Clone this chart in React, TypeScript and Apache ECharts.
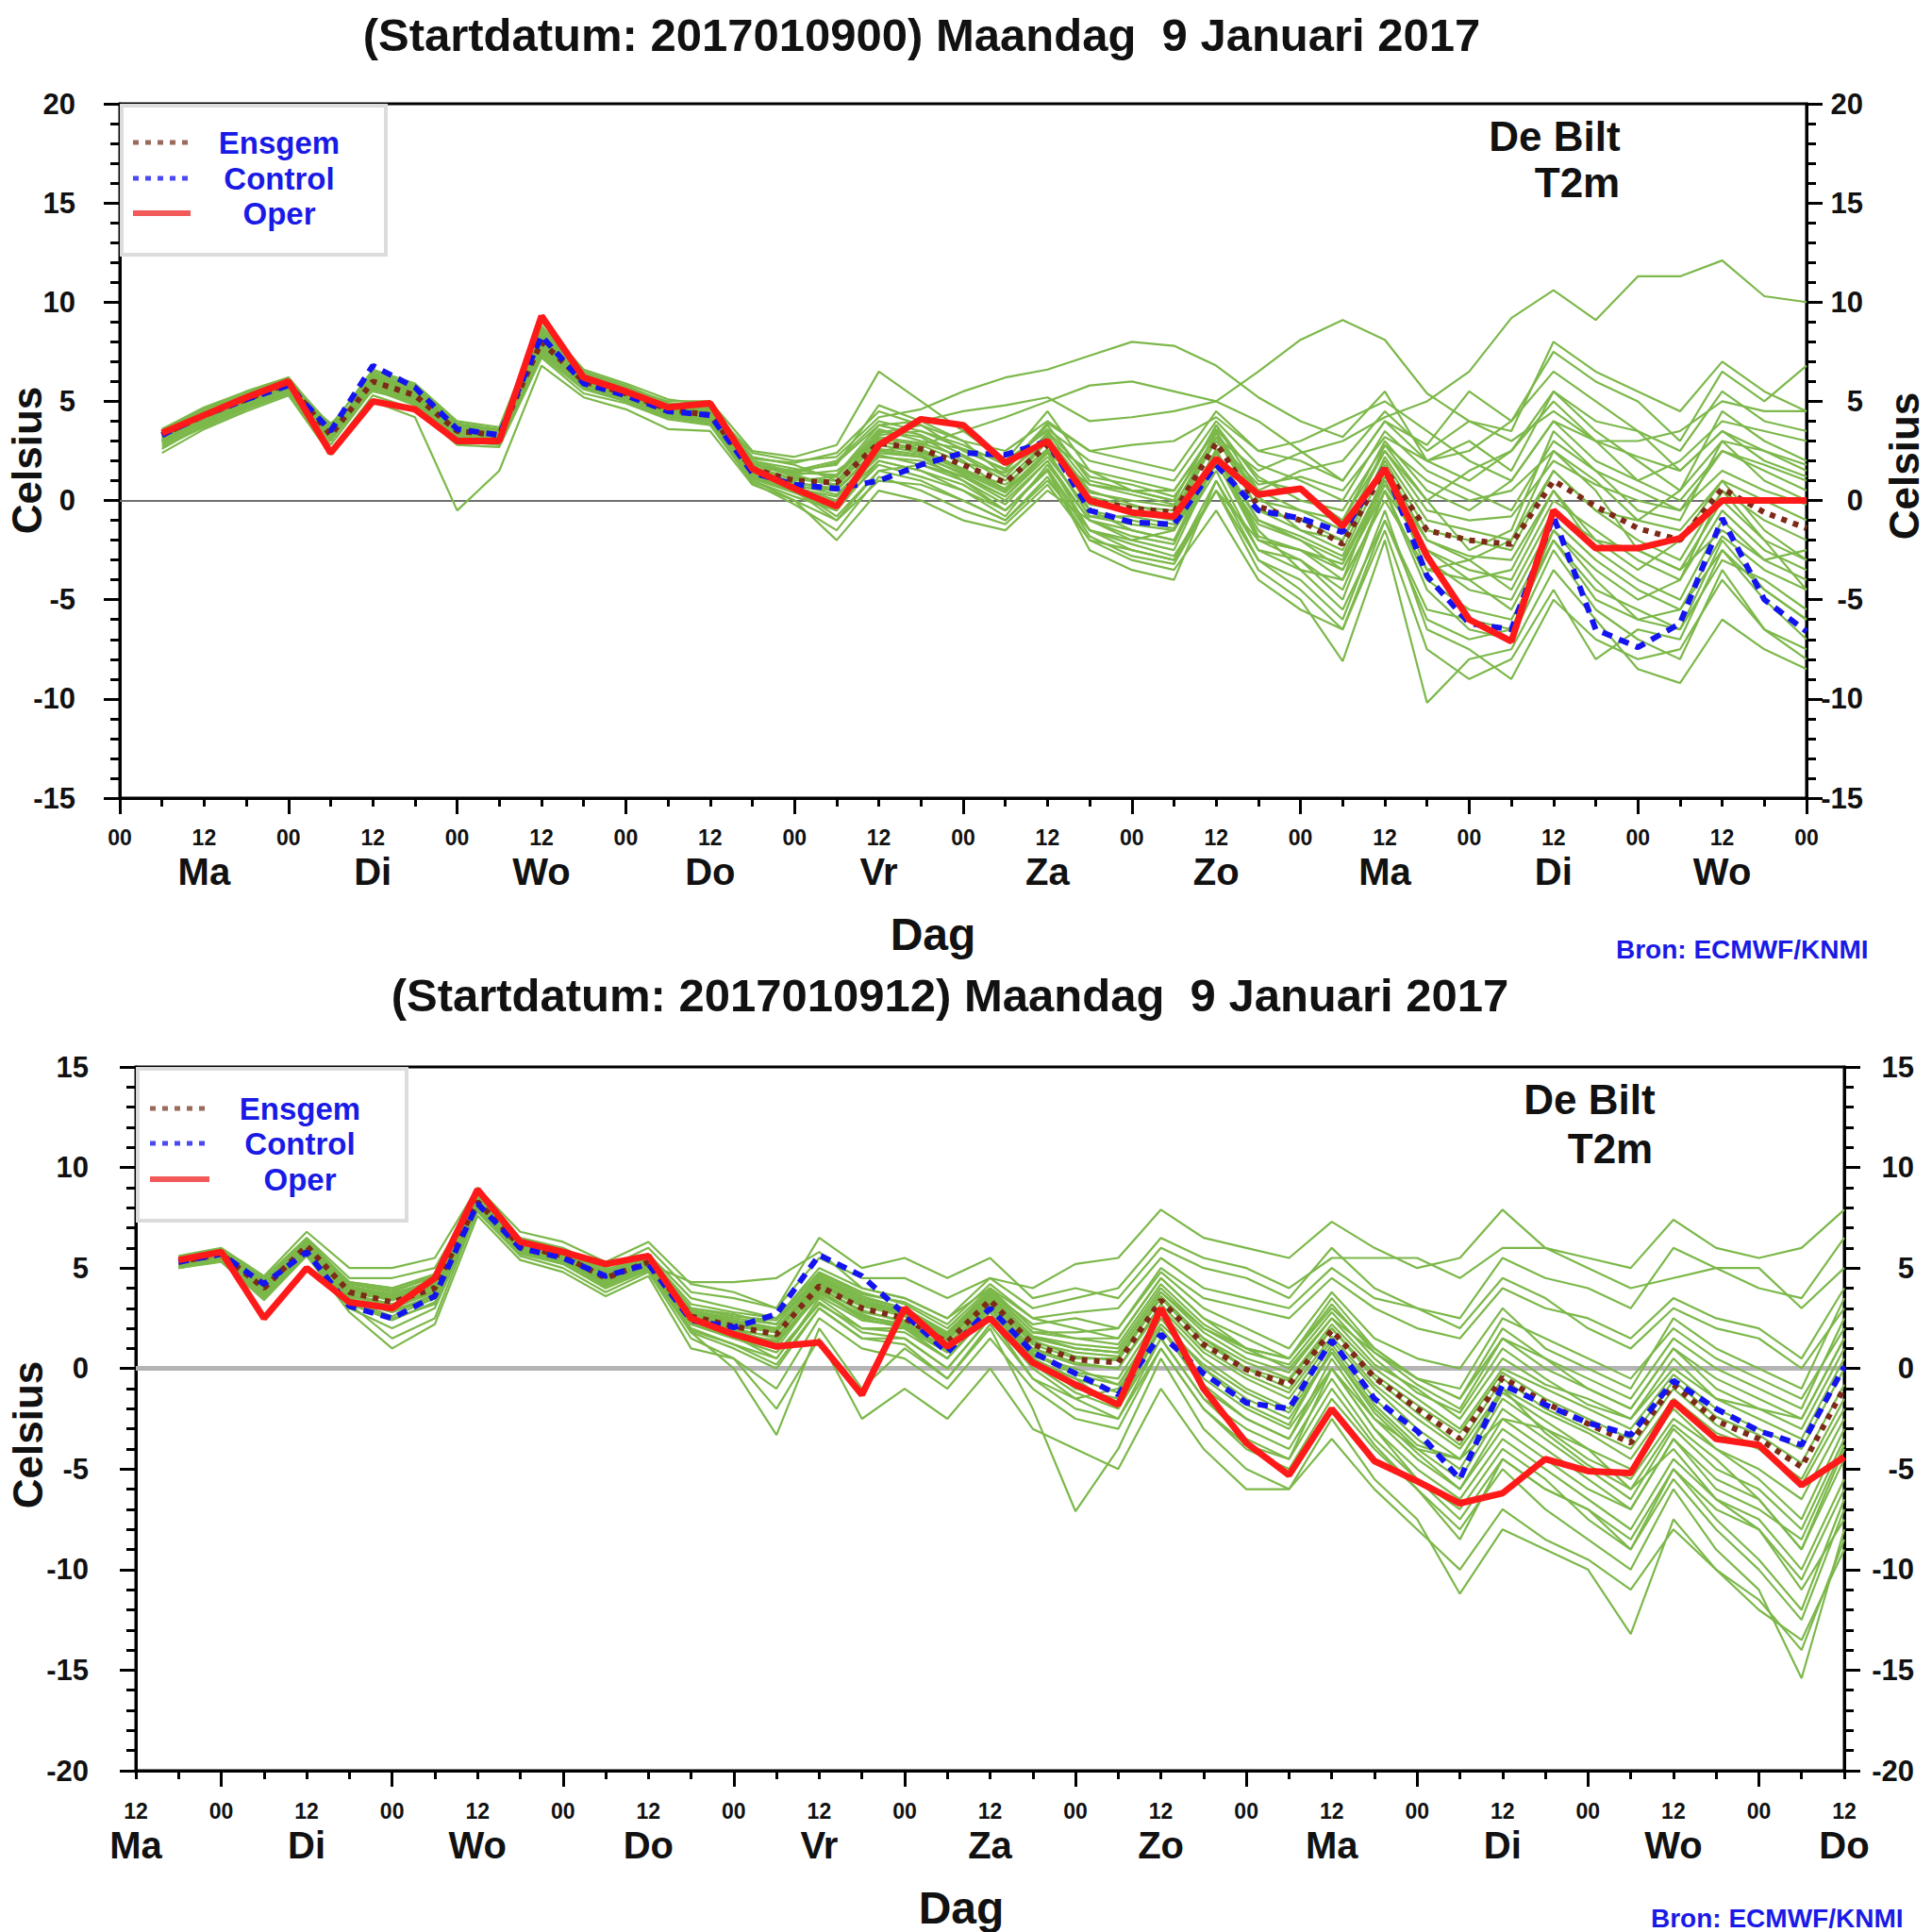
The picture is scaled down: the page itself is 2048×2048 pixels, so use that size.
import React, { useEffect, useRef } from "react";
import * as echarts from "echarts";

// forecast hours (6-hourly steps) for both panels
const hours = [6, 12, 18, 24, 30, 36, 42, 48, 54, 60, 66, 72, 78, 84, 90, 96, 102, 108, 114, 120, 126, 132, 138, 144, 150, 156, 162, 168, 174, 180, 186, 192, 198, 204, 210, 216, 222, 228, 234, 240];

const topDays = ["Ma", "Di", "Wo", "Do", "Vr", "Za", "Zo", "Ma", "Di", "Wo"];
const bottomDays = ["Ma", "Di", "Wo", "Do", "Vr", "Za", "Zo", "Ma", "Di", "Wo", "Do"];
const topLongTicks = [0, 24, 48, 72, 96, 120, 144, 168, 192, 216, 240];
const bottomLongTicks = [12, 36, 60, 84, 108, 132, 156, 180, 204, 228];

const topTitle = "(Startdatum: 2017010900) Maandag  9 Januari 2017";
const bottomTitle = "(Startdatum: 2017010912) Maandag  9 Januari 2017";

// ---------- top panel (run 2017010900) ----------
const topEnsgem = [3.3, 4.3, 5.1, 5.9, 3.3, 6.0, 5.3, 3.5, 3.3, 8.0, 6.0, 5.4, 4.6, 4.3, 1.6, 1.0, 0.9, 2.9, 2.6, 1.8, 0.9, 2.8, 0.0, -0.4, -0.6, 2.9, -0.3, -1.0, -2.2, 1.6, -1.5, -2.0, -2.2, 1.0, -0.3, -1.4, -2.0, 0.6, -0.6, -1.4];
const topControl = [3.3, 4.3, 5.1, 5.8, 3.5, 6.8, 5.7, 3.6, 3.3, 8.3, 5.9, 5.3, 4.5, 4.3, 1.4, 0.8, 0.6, 1.0, 1.8, 2.4, 2.3, 3.0, -0.5, -1.1, -1.2, 1.8, -0.5, -0.9, -1.6, 1.7, -3.8, -6.2, -6.5, -0.8, -6.5, -7.4, -6.2, -0.9, -5.0, -6.6];
const topOper = [3.4, 4.3, 5.2, 6.0, 2.4, 5.0, 4.6, 3.0, 3.0, 9.3, 6.2, 5.5, 4.7, 4.9, 1.6, 0.6, -0.3, 2.8, 4.1, 3.8, 1.9, 3.0, 0.0, -0.6, -0.8, 2.1, 0.3, 0.6, -1.3, 1.6, -2.8, -6.0, -7.1, -0.5, -2.4, -2.4, -1.9, 0.0, 0.0, 0.0];

const topM01 = [3.5, 4.5, 5.3, 6.0, 3.6, 5.8, 5.0, 3.4, 3.1, 8.2, 6.2, 5.6, 4.8, 4.5, 2.0, 1.6, 1.2, 3.6, 3.0, 2.6, 2.0, 3.5, 1.2, 0.8, 0.2, 3.2, 1.5, 2.4, 3.0, 4.2, 5.0, 6.5, 9.2, 10.6, 9.1, 11.3, 11.3, 12.1, 10.3, 10.0];
const topM02 = [3.0, 4.1, 4.9, 5.7, 3.0, 6.2, 5.5, 3.8, 3.5, 7.8, 5.8, 5.2, 4.4, 4.0, 1.8, 1.4, 1.9, 3.8, 4.0, 4.5, 4.8, 5.2, 4.0, 4.2, 4.5, 5.0, 6.5, 8.1, 9.1, 8.1, 5.4, 4.0, 3.0, 4.5, 3.0, 2.2, 1.5, 3.5, 2.5, 1.8];
const topM03 = [3.6, 4.6, 5.4, 6.1, 3.8, 6.4, 5.6, 3.9, 3.6, 8.6, 6.3, 5.7, 4.9, 4.6, 2.4, 2.0, 2.2, 4.2, 4.6, 5.5, 6.2, 6.6, 7.3, 8.0, 7.8, 6.8, 5.2, 4.0, 3.2, 5.5, 2.0, 1.0, 2.5, 5.5, 3.5, 2.0, 0.5, 4.5, 3.0, 2.0];
const topM04 = [3.2, 4.2, 5.0, 5.8, 3.2, 5.9, 5.2, 3.3, 3.2, 8.1, 6.0, 5.3, 4.5, 4.2, 1.5, 0.9, 0.6, 2.5, 2.8, 3.5, 4.2, 5.0, 5.8, 6.0, 5.5, 5.0, 4.0, 2.5, 1.0, 4.0, 2.8, 5.5, 4.0, 7.5, 6.0, 5.0, 3.0, 6.5, 5.0, 6.8];
const topM05 = [3.0, 4.0, 4.8, 5.6, 2.8, 5.6, 4.9, 3.0, 2.8, 7.5, 5.7, 5.1, 4.3, 4.0, 1.2, 0.4, -0.5, 2.0, 1.5, 0.8, -0.5, 1.6, -1.5, -2.5, -3.0, 0.5, -3.5, -5.0, -8.1, -2.0, -10.2, -8.0, -7.5, -3.5, -6.0, -8.5, -9.2, -6.0, -7.5, -8.5];
const topM06 = [2.6, 3.8, 4.7, 5.4, 2.5, 5.3, 4.6, 2.8, 2.7, 7.2, 5.4, 4.9, 4.1, 3.8, 0.9, -0.2, -1.5, 1.2, 0.5, -0.5, -1.2, 0.8, -2.0, -3.0, -3.5, -0.5, -4.0, -5.5, -6.5, -1.5, -7.5, -9.0, -8.0, -4.5, -8.0, -6.5, -7.0, -2.5, -5.0, -7.0];
const topM07 = [2.4, 3.6, 4.5, 5.3, 2.3, 5.0, 4.2, -0.5, 1.5, 6.8, 5.2, 4.6, 3.6, 3.5, 0.8, 0.0, -2.0, 0.5, 0.0, -1.0, -1.5, 0.5, -1.0, -1.5, -2.0, 1.5, -2.5, -3.0, -4.5, 0.5, -4.0, -5.5, -6.0, -2.0, -4.5, -5.5, -6.5, -3.0, -4.0, -5.5];
const topM08 = [3.3, 4.3, 5.2, 6.0, 3.4, 6.1, 5.4, 3.6, 3.4, 8.3, 6.1, 5.5, 4.7, 4.4, 1.7, 1.1, 1.0, 3.2, 2.9, 2.2, 1.0, 3.0, 0.4, 0.0, -0.3, 3.4, 0.0, -0.5, -1.5, 2.5, -0.5, -1.0, -0.8, 2.0, 0.8, 0.0, -0.5, 1.5, 0.5, -0.2];
const topM09 = [3.4, 4.4, 5.2, 5.9, 3.1, 6.5, 5.8, 3.9, 3.5, 8.8, 6.5, 5.8, 4.9, 4.6, 1.9, 1.2, 0.8, 3.5, 3.2, 2.0, 0.5, 2.5, -0.8, -1.2, -1.5, 2.2, -1.0, -2.0, -3.5, 0.8, -2.5, -3.5, -4.0, 0.0, -1.5, -3.0, -4.0, -0.5, -2.5, -3.5];
const topM10 = [2.9, 3.9, 4.8, 5.6, 3.9, 5.5, 5.0, 3.2, 3.0, 7.6, 5.9, 5.2, 4.4, 4.1, 1.3, 0.6, 0.2, 2.2, 2.0, 1.2, 0.2, 2.2, -0.5, -1.0, -1.4, 2.6, -1.8, -2.5, -3.2, 1.0, -3.0, -4.5, -5.0, -1.0, -3.0, -4.5, -5.5, -1.8, -3.5, -4.5];
const topM11 = [3.5, 4.6, 5.5, 6.2, 3.5, 6.3, 5.6, 3.7, 3.4, 8.5, 6.4, 5.7, 5.0, 5.0, 2.5, 2.2, 2.8, 6.5, 5.0, 3.5, 2.0, 4.5, 1.5, 0.5, 0.0, 3.8, 0.5, -0.5, -1.0, 2.5, 0.0, 1.5, 2.5, 5.0, 3.0, 1.0, 0.0, 2.5, 1.5, 0.5];
const topM12 = [3.1, 4.1, 5.0, 5.8, 3.3, 5.8, 5.1, 3.3, 3.1, 7.9, 5.8, 5.3, 4.5, 4.2, 1.4, 0.6, -0.8, 1.5, 1.8, 1.2, 0.0, 2.0, -1.5, -2.0, -2.5, 2.0, -2.0, -3.0, -5.0, 0.5, -4.5, -6.5, -7.0, -2.5, -5.5, -7.0, -8.0, -3.5, -6.5, -7.5];
const topM13 = [3.4, 4.4, 5.3, 6.1, 3.0, 6.0, 5.2, 3.5, 3.4, 8.0, 6.0, 5.4, 4.6, 4.3, 1.6, 1.5, 2.0, 4.0, 3.5, 2.8, 1.8, 3.6, 2.0, 1.5, 1.0, 4.0, 1.8, 1.0, 0.0, 3.5, 1.5, 0.5, -0.5, 3.0, 1.5, 0.5, -0.5, 2.5, 1.8, 1.0];
const topM14 = [3.0, 4.0, 4.9, 5.7, 3.5, 6.0, 5.3, 3.4, 3.2, 7.7, 5.9, 5.3, 4.4, 4.0, 1.0, 0.2, -0.5, 2.5, 2.2, 1.0, -0.5, 1.5, -2.5, -3.5, -4.0, 1.0, -3.0, -4.0, -6.0, -0.5, -6.5, -7.5, -9.0, -5.0, -7.0, -8.0, -7.5, -4.0, -6.5, -8.0];
const topM15 = [3.2, 4.2, 5.0, 5.8, 3.2, 6.2, 5.5, 3.6, 3.3, 8.2, 6.1, 5.5, 4.7, 4.4, 1.8, 1.3, 1.5, 3.0, 2.5, 1.5, 0.5, 3.2, 0.5, -0.2, -0.8, 3.5, -0.5, -1.5, -2.5, 2.2, -1.0, -1.5, -2.0, 1.5, -0.5, -2.0, -3.0, 0.5, -1.0, -2.0];
const topM16 = [3.3, 4.3, 5.1, 5.9, 3.3, 5.9, 5.2, 3.4, 3.2, 7.9, 5.9, 5.3, 4.5, 4.3, 1.5, 0.9, 0.5, 2.8, 2.4, 1.5, 0.8, 2.6, 0.2, -0.3, -0.5, 3.0, 0.5, 1.5, 2.0, 4.5, 2.5, 4.0, 3.5, 8.0, 6.5, 5.5, 4.5, 7.0, 5.5, 4.5];
const topM17 = [2.8, 3.8, 4.7, 5.5, 3.6, 5.7, 5.0, 3.1, 2.9, 7.4, 5.7, 5.0, 4.2, 3.9, 1.1, 0.4, 0.0, 2.0, 1.5, 0.5, -0.8, 1.8, -1.0, -2.0, -1.5, 1.8, -1.2, -2.0, -3.0, 1.2, -2.0, -3.0, -4.5, -0.5, -2.0, -3.5, -2.0, 1.0, -1.5, -3.0];
const topM18 = [3.6, 4.7, 5.5, 6.2, 3.7, 6.6, 5.9, 4.0, 3.7, 9.0, 6.6, 5.9, 5.1, 4.8, 2.2, 1.8, 1.0, 3.3, 3.5, 2.6, 1.5, 3.8, 1.0, 0.5, 0.0, 3.8, 1.0, 0.5, -1.0, 3.0, 0.5, -0.5, 1.0, 4.0, 2.0, 1.0, 2.0, 4.0, 3.5, 3.0];
const topM19 = [3.1, 4.1, 4.9, 5.7, 3.0, 5.7, 5.0, 3.2, 3.0, 7.7, 5.7, 5.2, 4.4, 4.1, 1.3, 0.7, 0.0, 2.3, 1.8, 1.0, -0.2, 2.0, -1.0, -1.8, -2.2, 2.2, -1.5, -3.5, -4.0, 0.0, -3.5, -4.0, -3.5, 0.5, -2.5, -4.0, -5.0, -1.0, -3.0, -4.0];
const topM20 = [3.4, 4.5, 5.3, 6.1, 3.4, 6.1, 5.4, 3.7, 3.5, 8.4, 6.2, 5.6, 4.8, 4.5, 1.9, 1.3, 0.7, 3.0, 2.6, 1.6, 0.6, 3.0, -0.2, -0.6, -1.0, 3.2, -0.5, -1.0, -2.0, 2.0, -1.5, -2.0, -2.5, 1.5, -0.5, -1.0, -1.5, 1.0, 0.0, -1.0];
const topM21 = [3.2, 4.3, 5.2, 6.0, 3.0, 6.3, 5.6, 3.8, 3.6, 8.5, 6.3, 5.6, 4.8, 4.5, 1.8, 1.5, 1.8, 4.8, 4.0, 3.0, 2.5, 4.0, 2.5, 2.0, 1.5, 4.5, 2.5, 2.0, 1.0, 4.0, 2.0, 3.0, 1.5, 5.5, 4.0, 3.5, 2.5, 5.5, 4.0, 3.5];
const topM22 = [3.0, 4.0, 4.9, 5.6, 3.4, 5.8, 5.0, 3.1, 3.0, 7.6, 5.8, 5.2, 4.3, 4.0, 1.2, 0.5, -1.0, 1.5, 1.0, 0.0, -1.0, 1.2, -2.0, -2.5, -3.0, 1.0, -2.5, -3.5, -5.5, -1.0, -5.5, -6.0, -6.5, -1.5, -4.0, -6.0, -6.5, -2.0, -4.5, -6.0];
const topM23 = [3.3, 4.4, 5.3, 6.1, 3.2, 6.2, 5.4, 3.6, 3.4, 8.1, 6.0, 5.4, 4.6, 4.3, 1.6, 0.8, 0.3, 2.4, 2.2, 1.4, 0.4, 2.4, 0.8, 0.5, 0.5, 3.6, 1.2, 0.0, -0.5, 2.8, 1.0, 0.0, 0.5, 2.5, 1.0, -1.0, 0.5, 3.0, 2.5, 1.5];
const topM24 = [3.5, 4.5, 5.3, 6.0, 3.7, 6.0, 5.3, 3.5, 3.3, 8.3, 6.1, 5.5, 4.7, 4.4, 1.7, 1.0, 1.2, 3.4, 3.8, 3.0, 1.2, 3.3, -0.5, -1.5, -2.0, 2.4, -2.0, -2.5, -4.0, 1.5, -3.5, -3.0, -2.0, 2.5, 0.5, -2.5, -3.5, 0.0, -2.0, -3.0];
const topM25 = [2.7, 3.7, 4.6, 5.4, 3.1, 5.6, 4.8, 3.0, 2.9, 7.3, 5.6, 5.0, 4.2, 3.9, 1.0, 0.0, -1.0, 1.0, 0.8, 0.0, -1.0, 1.0, -1.5, -2.2, -2.8, 0.5, -2.0, -2.5, -3.5, 0.5, -2.5, -4.0, -5.5, -1.5, -3.5, -5.0, -4.0, 0.5, -2.0, -4.5];
const topM26 = [3.4, 4.4, 5.2, 6.0, 3.3, 6.4, 5.7, 3.8, 3.5, 8.7, 6.4, 5.7, 4.9, 4.7, 2.0, 1.4, 1.3, 3.8, 3.3, 2.3, 1.2, 3.4, 0.8, 0.3, -0.2, 3.0, 0.8, 1.2, 0.5, 3.2, 2.0, 2.5, 4.0, 6.5, 5.0, 3.5, 1.5, 3.5, 2.0, 1.2];
const topM27 = [3.1, 4.1, 5.0, 5.8, 3.4, 5.9, 5.2, 3.3, 3.1, 7.8, 5.8, 5.2, 4.4, 4.1, 1.4, 0.7, 0.5, 2.6, 2.3, 1.3, 0.2, 2.4, -0.8, -0.8, -1.2, 2.5, -1.0, -1.8, -2.8, 1.8, -2.0, -2.8, -3.0, 0.5, -2.0, -2.5, -3.5, -1.5, -3.0, -2.5];
const topM28 = [3.3, 4.3, 5.1, 5.9, 3.5, 6.1, 5.4, 3.5, 3.3, 8.2, 6.1, 5.4, 4.6, 4.3, 1.5, 1.1, 0.8, 3.1, 2.8, 1.9, 1.4, 3.0, 1.5, 1.0, 0.5, 3.5, 0.2, -1.5, -2.0, 2.8, 0.0, -2.5, -1.5, 3.5, 1.5, -0.5, -1.0, 3.0, 1.0, 0.0];
const topM29 = [2.9, 3.9, 4.8, 5.6, 3.1, 5.7, 5.0, 3.2, 3.0, 7.5, 5.7, 5.1, 4.3, 4.0, 1.2, 0.5, -0.3, 1.8, 1.2, 0.5, -0.5, 1.5, -1.8, -2.8, -3.2, 0.5, -3.0, -4.5, -6.5, -1.0, -6.0, -7.0, -6.5, -2.0, -5.0, -6.0, -5.5, -2.5, -4.5, -6.0];
const topM30 = [3.5, 4.6, 5.4, 6.2, 3.4, 6.0, 5.4, 3.7, 3.5, 8.6, 6.3, 5.7, 4.9, 4.6, 2.1, 1.9, 2.4, 4.5, 3.8, 2.5, 1.6, 3.9, 2.5, 2.8, 3.0, 4.2, 2.5, 3.0, 4.0, 5.0, 3.5, 2.0, 1.0, 4.0, 3.0, 3.0, 3.5, 5.0, 4.5, 4.5];
const topMembers = [topM01, topM02, topM03, topM04, topM05, topM06, topM07, topM08, topM09, topM10, topM11, topM12, topM13, topM14, topM15, topM16, topM17, topM18, topM19, topM20, topM21, topM22, topM23, topM24, topM25, topM26, topM27, topM28, topM29, topM30];

// ---------- bottom panel (run 2017010912) ----------
const botEnsgem = [5.3, 5.7, 4.0, 6.1, 3.8, 3.3, 4.0, 8.3, 6.1, 5.6, 4.5, 5.3, 2.6, 2.1, 1.7, 4.1, 3.0, 2.5, 1.3, 3.4, 1.2, 0.45, 0.3, 3.4, 1.2, -0.05, -0.8, 1.9, -0.45, -2.0, -3.5, -0.45, -1.7, -2.75, -3.7, -0.8, -2.6, -3.5, -4.9, -0.95];
const botControl = [5.3, 5.7, 4.2, 5.8, 3.1, 2.5, 3.6, 8.2, 6.0, 5.5, 4.6, 5.2, 2.4, 2.05, 2.7, 5.65, 4.6, 2.7, 0.8, 3.0, 0.8, -0.25, -1.3, 1.7, -0.25, -1.7, -2.0, 1.4, -1.5, -3.1, -5.5, -0.8, -1.8, -2.7, -3.3, -0.6, -2.0, -3.1, -3.8, 0.1];
const botOper = [5.4, 5.8, 2.5, 5.0, 3.3, 3.0, 4.5, 8.9, 6.3, 5.8, 5.2, 5.6, 2.5, 1.7, 1.1, 1.3, -1.3, 3.0, 1.1, 2.5, 0.3, -0.8, -1.8, 3.0, -1.0, -3.7, -5.3, -2.0, -4.6, -5.6, -6.7, -6.2, -4.5, -5.1, -5.2, -1.65, -3.5, -3.8, -5.8, -4.4];

const botM01 = [5.5, 5.9, 4.5, 6.5, 4.5, 4.5, 5.0, 8.6, 6.5, 6.0, 5.0, 6.0, 3.8, 3.5, 3.0, 5.5, 4.5, 4.5, 3.5, 4.5, 4.0, 5.2, 5.5, 7.9, 6.5, 6.0, 5.5, 7.3, 6.0, 5.0, 5.5, 7.9, 6.0, 5.5, 5.0, 7.4, 6.0, 5.5, 6.0, 7.9];
const botM02 = [5.2, 5.6, 3.8, 5.9, 3.5, 2.8, 3.5, 8.1, 5.9, 5.4, 4.2, 5.0, 2.2, 1.5, 1.0, 3.8, 2.5, 2.0, 0.5, 3.0, 0.5, -1.0, -1.5, 2.0, -0.5, -2.0, -3.0, 0.0, -2.5, -4.5, -6.0, -3.0, -4.5, -6.0, -7.0, -3.5, -5.5, -6.5, -9.0, -4.5];
const botM03 = [5.0, 5.4, 3.5, 5.7, 3.0, 2.0, 3.0, 7.8, 5.6, 5.0, 3.8, 4.8, 1.5, 0.5, -1.0, 2.5, 1.0, 0.5, -1.0, 1.5, -1.0, -2.5, -3.0, 1.0, -2.0, -4.0, -5.0, -1.5, -4.0, -6.0, -8.0, -5.0, -7.0, -8.5, -10.0, -6.0, -9.0, -11.0, -15.4, -8.0];
const botM04 = [5.1, 5.5, 3.7, 5.8, 3.2, 1.5, 2.5, 7.9, 5.8, 5.2, 4.0, 4.9, 1.8, 0.0, -3.3, 2.0, -1.0, 1.0, -0.5, 2.0, -2.0, -7.1, -4.0, 0.5, -3.0, -5.0, -6.0, -2.5, -5.5, -7.5, -11.2, -8.0, -9.0, -10.0, -13.2, -7.5, -10.0, -12.0, -13.5, -9.0];
const botM05 = [5.4, 5.8, 4.2, 6.2, 4.0, 3.6, 4.3, 8.4, 6.2, 5.7, 4.6, 5.4, 2.8, 2.3, 2.0, 4.5, 3.4, 2.8, 1.5, 3.6, 1.5, 1.0, 0.8, 3.8, 1.8, 0.5, -0.2, 2.5, 0.2, -1.0, -2.5, 0.5, -0.8, -1.5, -2.5, 0.0, -1.5, -2.5, -3.5, 0.5];
const botM06 = [5.6, 6.0, 4.6, 6.8, 5.0, 5.0, 5.5, 9.0, 6.8, 6.3, 5.3, 6.3, 4.2, 3.8, 3.0, 6.5, 5.0, 5.5, 4.5, 5.5, 3.5, 4.0, 3.5, 6.0, 5.0, 4.5, 3.5, 6.0, 4.0, 3.0, 2.5, 5.5, 4.5, 4.0, 3.0, 6.0, 5.0, 4.0, 3.5, 6.5];
const botM07 = [5.3, 5.7, 4.1, 6.0, 3.9, 3.4, 4.2, 8.3, 6.0, 5.5, 4.4, 5.2, 4.3, 4.3, 4.5, 5.8, 4.0, 3.5, 2.5, 4.0, 2.5, 2.0, 1.5, 4.5, 2.5, 1.0, 0.5, 3.5, 1.0, -0.5, -1.5, 2.0, 0.5, -0.5, -1.5, 1.5, 0.0, -1.0, -2.0, 2.5];
const botM08 = [5.2, 5.5, 3.9, 6.0, 3.6, 3.0, 3.8, 8.2, 6.0, 5.5, 4.4, 5.2, 2.4, 1.8, 1.2, 3.9, 2.6, 2.2, 0.8, 3.2, 0.8, -0.2, -0.5, 2.8, 0.5, -1.0, -2.0, 1.2, -1.5, -3.5, -5.0, -1.5, -3.0, -4.5, -5.5, -2.5, -4.0, -5.5, -7.5, -3.0];
const botM09 = [5.4, 5.8, 4.0, 6.2, 3.9, 3.5, 4.1, 8.4, 6.1, 5.7, 4.6, 5.4, 2.7, 2.2, 1.8, 4.2, 3.2, 2.7, 1.5, 3.6, 1.4, 0.6, 0.4, 3.5, 1.3, 0.0, -0.6, 2.0, -0.3, -1.8, -3.2, -0.2, -1.5, -2.5, -3.5, -0.6, -2.4, -3.3, -4.7, -0.8];
const botM10 = [5.1, 5.5, 3.6, 5.9, 3.4, 2.6, 3.5, 8.0, 5.8, 5.3, 4.2, 5.0, 1.8, 1.0, 0.0, 3.0, 1.5, 1.5, 0.0, 2.5, -0.5, -2.0, -2.5, 1.5, -1.5, -3.5, -4.5, 0.0, -3.0, -5.5, -7.5, -4.5, -6.0, -7.0, -9.0, -5.0, -7.5, -9.5, -12.0, -6.5];
const botM11 = [5.3, 5.7, 4.3, 6.3, 4.2, 3.8, 4.6, 8.5, 6.3, 5.8, 4.8, 5.6, 3.2, 2.8, 2.5, 4.8, 3.8, 3.2, 2.0, 4.0, 2.0, 1.5, 1.5, 4.5, 2.5, 1.5, 0.5, 3.0, 1.0, -0.5, -1.5, 1.5, 0.0, -1.0, -2.0, 1.0, -0.5, -1.5, -2.5, 1.5];
const botM12 = [5.5, 5.9, 4.4, 6.4, 4.3, 4.0, 4.7, 8.6, 6.4, 5.9, 4.9, 5.7, 3.5, 3.0, 2.5, 5.0, 4.0, 3.5, 2.5, 4.5, 3.0, 3.5, 4.0, 6.5, 5.5, 5.0, 4.0, 5.5, 5.5, 5.5, 4.5, 6.0, 6.0, 5.0, 4.0, 4.5, 5.0, 5.0, 3.0, 5.0];
const botM13 = [5.2, 5.6, 3.9, 5.9, 3.6, 3.1, 3.8, 8.1, 5.9, 5.4, 4.3, 5.1, 2.3, 1.7, 1.4, 3.7, 2.7, 2.0, 0.8, 3.0, 0.6, 0.0, -0.8, 2.5, 0.0, -1.5, -2.5, 0.8, -2.0, -4.0, -5.5, -2.0, -3.5, -5.0, -6.5, -3.0, -5.0, -6.0, -8.0, -3.5];
const botM14 = [5.0, 5.3, 3.4, 5.6, 2.8, 1.0, 2.2, 7.6, 5.4, 4.8, 3.6, 4.6, 1.0, 0.5, -2.0, 1.5, -2.5, -1.0, -2.5, 0.0, -3.0, -4.0, -5.0, -1.0, -4.0, -6.0, -6.0, -3.5, -6.0, -8.0, -10.0, -7.0, -8.5, -9.5, -11.0, -8.0, -10.0, -11.5, -14.0, -8.5];
const botM15 = [5.3, 5.7, 4.0, 6.1, 3.8, 3.4, 4.0, 8.3, 6.1, 5.6, 4.5, 5.3, 2.6, 2.0, 1.5, 4.0, 2.8, 2.4, 1.2, 3.3, 1.0, 0.3, 0.0, 3.2, 1.0, -0.3, -1.2, 1.6, -0.8, -2.5, -4.0, -1.0, -2.2, -3.2, -4.5, -1.5, -3.2, -4.0, -5.8, -2.0];
const botM16 = [5.4, 5.8, 4.2, 6.2, 4.0, 3.7, 4.4, 8.4, 6.2, 5.7, 4.6, 5.4, 2.9, 2.4, 2.0, 4.4, 3.4, 2.9, 1.7, 3.7, 1.6, 1.2, 1.0, 4.0, 2.0, 0.8, 0.2, 2.8, 0.5, -1.2, -2.2, 1.0, -0.5, -1.8, -2.5, 0.5, -1.5, -2.0, -3.0, 1.0];
const botM17 = [5.1, 5.5, 3.8, 5.8, 3.3, 2.5, 3.2, 8.0, 5.8, 5.3, 4.1, 5.0, 2.0, 1.2, 0.5, 3.3, 1.8, 1.5, 0.0, 2.5, 0.0, -1.5, -1.0, 2.0, -0.8, -2.5, -3.5, 0.5, -2.5, -4.0, -4.5, -2.5, -3.0, -4.0, -6.0, -4.0, -6.5, -7.5, -10.0, -5.5];
const botM18 = [5.3, 5.7, 4.1, 6.1, 3.9, 3.5, 4.2, 8.3, 6.1, 5.6, 4.5, 5.3, 2.7, 2.2, 1.9, 4.3, 3.3, 2.8, 1.7, 3.8, 2.2, 2.5, 2.0, 5.0, 3.5, 3.0, 2.5, 4.5, 3.0, 2.0, 1.5, 4.0, 3.0, 2.5, 1.5, 3.5, 2.5, 2.0, 0.5, 4.0];
const botM19 = [5.2, 5.6, 3.9, 6.0, 3.7, 3.2, 3.9, 8.2, 6.0, 5.5, 4.4, 5.2, 2.5, 1.9, 1.6, 4.0, 2.9, 2.3, 1.0, 3.1, 0.9, 0.2, 0.0, 3.0, 0.8, -0.5, -1.5, 1.4, -1.0, -3.0, -4.5, -1.2, -2.6, -4.0, -5.0, -2.0, -4.0, -5.0, -6.5, -2.5];
const botM20 = [5.4, 5.8, 4.1, 6.2, 4.0, 3.5, 4.2, 8.4, 6.2, 5.7, 4.6, 5.4, 2.8, 2.4, 2.0, 4.3, 3.2, 2.7, 1.4, 3.5, 1.3, 0.8, 0.6, 3.6, 1.5, 0.3, -0.5, 2.2, 0.0, -1.5, -3.0, 0.0, -1.0, -2.0, -3.0, -0.3, -2.0, -3.0, -4.0, 0.0];
const botM21 = [5.3, 5.7, 4.2, 6.0, 3.4, 2.8, 3.7, 8.2, 6.0, 5.5, 4.4, 5.2, 2.3, 1.6, 0.5, 3.5, 2.0, 2.0, 0.5, 3.0, 0.3, -0.5, -1.2, 2.5, 0.0, -1.8, -2.8, 1.0, -1.8, -3.8, -4.5, -1.0, -3.2, -4.8, -6.0, -2.8, -4.5, -6.5, -9.0, -4.0];
const botM22 = [5.4, 5.8, 4.3, 6.3, 4.3, 4.0, 4.6, 8.5, 6.3, 5.8, 4.7, 5.5, 3.0, 2.6, 2.4, 4.6, 3.5, 3.0, 1.8, 3.8, 1.8, 1.8, 2.0, 4.8, 3.0, 2.0, 1.0, 3.8, 1.5, 0.5, 0.0, 3.0, 1.0, 0.0, -1.0, 2.5, 1.0, 0.0, -1.0, 3.5];
const botM23 = [5.2, 5.6, 3.8, 5.9, 3.7, 3.2, 3.9, 8.1, 5.9, 5.4, 4.3, 5.1, 2.5, 1.9, 1.3, 3.6, 2.4, 2.1, 0.9, 3.1, 0.5, -0.5, -2.0, 2.0, -1.0, -2.5, -3.5, 0.0, -3.0, -5.0, -6.5, -3.5, -5.0, -6.5, -8.0, -4.5, -6.5, -8.0, -10.5, -6.0];
const botM24 = [5.5, 5.9, 4.3, 6.3, 4.1, 3.7, 4.4, 8.5, 6.3, 5.8, 4.7, 5.5, 2.9, 2.5, 2.2, 4.6, 3.6, 3.0, 1.8, 3.9, 1.8, 1.5, 1.2, 4.2, 2.2, 1.0, 0.5, 3.2, 0.8, -0.5, -1.0, 2.5, 1.5, 0.5, -0.5, 2.0, 0.5, -0.5, -1.5, 2.0];
const botM25 = [5.1, 5.5, 3.7, 5.8, 3.4, 2.9, 3.6, 8.0, 5.8, 5.3, 4.2, 5.0, 2.2, 1.5, 0.8, 3.2, 2.0, 1.8, 0.5, 2.8, 0.2, -1.2, -2.0, 1.5, -1.5, -3.0, -4.0, -0.5, -3.5, -5.5, -7.0, -4.0, -5.5, -7.5, -9.0, -5.5, -8.0, -10.0, -12.5, -7.0];
const botM26 = [5.3, 5.7, 4.0, 6.1, 3.8, 3.4, 4.1, 8.3, 6.1, 5.6, 4.5, 5.3, 2.6, 2.1, 1.8, 4.1, 3.1, 2.6, 1.4, 3.4, 1.2, 0.5, 0.5, 3.6, 1.5, 0.0, -1.0, 2.0, -0.5, -2.2, -3.8, -0.5, -2.0, -3.0, -4.0, -1.0, -2.8, -4.0, -5.5, -1.5];
const botM27 = [5.4, 5.8, 4.4, 6.4, 4.2, 3.9, 4.5, 8.5, 6.3, 5.8, 4.8, 5.6, 3.0, 2.7, 2.2, 4.7, 3.7, 3.3, 2.2, 4.2, 2.5, 2.8, 3.0, 5.5, 4.0, 3.5, 3.0, 5.0, 3.5, 3.0, 2.0, 4.5, 3.5, 2.0, 1.0, 3.0, 2.0, 1.5, 0.0, 3.0];
const botM28 = [5.2, 5.6, 3.9, 6.0, 3.6, 3.1, 3.8, 8.2, 6.0, 5.5, 4.4, 5.2, 2.4, 1.8, 1.3, 3.8, 2.6, 2.2, 1.0, 3.2, 0.7, -0.3, -0.8, 2.2, 0.2, -1.2, -2.2, 0.8, -2.2, -4.2, -6.0, -2.5, -4.0, -5.5, -7.0, -3.5, -6.0, -7.0, -8.5, -3.8];
const botM29 = [5.3, 5.7, 4.1, 6.1, 3.9, 3.5, 4.2, 8.4, 6.1, 5.6, 4.5, 5.3, 2.7, 2.3, 1.9, 4.2, 3.2, 2.8, 1.6, 3.6, 1.6, 1.0, 0.8, 3.8, 2.0, 1.0, 0.0, 2.5, 0.8, -0.8, -2.0, 1.5, 0.5, -1.0, -2.0, 1.0, -1.0, -2.0, -2.5, 1.5];
const botM30 = [5.0, 5.4, 3.6, 5.7, 3.2, 2.4, 3.3, 7.9, 5.7, 5.2, 4.0, 4.9, 1.9, 1.2, 0.2, 3.0, 1.5, 1.2, -0.5, 2.2, -0.5, -1.5, -2.5, 1.0, -2.0, -3.8, -4.5, -1.0, -3.8, -6.0, -8.5, -4.5, -6.0, -7.0, -8.5, -5.0, -7.0, -8.0, -11.0, -7.5];
const botMembers = [botM01, botM02, botM03, botM04, botM05, botM06, botM07, botM08, botM09, botM10, botM11, botM12, botM13, botM14, botM15, botM16, botM17, botM18, botM19, botM20, botM21, botM22, botM23, botM24, botM25, botM26, botM27, botM28, botM29, botM30];

const FONT = "Liberation Sans";
const GREEN = "#7cb84a";
const BROWN = "#7e2a18";
const BLUE = "#1414f0";
const RED = "#ff1a1a";
const LABEL_BLUE = "#1a1ae6";

function pairs(vals: number[]) {
  return hours.map((h, i) => [h, vals[i]]);
}

function panelSeries(members: number[][], ens: number[], ctrl: number[], oper: number[], xi: number, yi: number, zeroColor: string, zeroWidth: number) {
  const s: any[] = [];
  members.forEach((m, k) => {
    const ser: any = {
      type: "line", xAxisIndex: xi, yAxisIndex: yi, data: pairs(m), symbol: "none", silent: true,
      lineStyle: { color: GREEN, width: 2.2 }, z: 2,
    };
    if (k === 0) {
      ser.markLine = {
        silent: true, symbol: "none", label: { show: false },
        lineStyle: { color: zeroColor, width: zeroWidth, type: "solid" },
        data: [{ yAxis: 0 }], z: 1,
      };
    }
    s.push(ser);
  });
  s.push({ type: "line", xAxisIndex: xi, yAxisIndex: yi, data: pairs(ens), symbol: "none", silent: true, z: 3,
    lineStyle: { color: BROWN, width: 6, type: [6, 7], cap: "butt" } });
  s.push({ type: "line", xAxisIndex: xi, yAxisIndex: yi, data: pairs(ctrl), symbol: "none", silent: true, z: 4,
    lineStyle: { color: BLUE, width: 6, type: [11, 8], cap: "butt" } });
  s.push({ type: "line", xAxisIndex: xi, yAxisIndex: yi, data: pairs(oper), symbol: "none", silent: true, z: 5,
    lineStyle: { color: RED, width: 7 } });
  return s;
}

const hourRich = {
  h: { fontSize: 23, fontWeight: "bold", fontFamily: FONT, color: "#111", lineHeight: 28 },
  d: { fontSize: 40, fontWeight: "bold", fontFamily: FONT, color: "#111", lineHeight: 44 },
};

function mainX(grid: number, days: string[], startsAtNoon: boolean, margin: number) {
  return {
    type: "value", gridIndex: grid, min: 0, max: 240, interval: 6, position: "bottom",
    axisLine: { show: true, onZero: false, lineStyle: { color: "#000", width: 3 } },
    axisTick: { show: true, length: 9, lineStyle: { color: "#000", width: 3 } },
    splitLine: { show: false },
    axisLabel: {
      show: true, margin, color: "#111", rich: hourRich,
      formatter: (v: number) => {
        const r = v % 24;
        if (!startsAtNoon) {
          if (r === 0) return "{h|00}";
          if (r === 12) return "{h|12}\n{d|" + days[(v - 12) / 24] + "}";
        } else {
          if (r === 12) return "{h|00}";
          if (r === 0) return "{h|12}\n{d|" + days[v / 24] + "}";
        }
        return "";
      },
    },
  };
}

function longTickX(grid: number, ticks: number[]) {
  return {
    type: "value", gridIndex: grid, min: 0, max: 240, position: "bottom",
    axisLine: { show: false, onZero: false },
    axisTick: { show: true, length: 17, customValues: ticks, lineStyle: { color: "#000", width: 3 } },
    axisLabel: { show: false },
    splitLine: { show: false },
  };
}

function yAx(grid: number, pos: string, min: number, max: number, margin: number, align: string) {
  return {
    type: "value", gridIndex: grid, position: pos, min, max, interval: 5,
    axisLine: { show: true, onZero: false, lineStyle: { color: "#000", width: 3 } },
    axisTick: { show: true, length: 17, lineStyle: { color: "#000", width: 3 } },
    minorTick: { show: true, splitNumber: 5, length: 10, lineStyle: { color: "#000", width: 3 } },
    splitLine: { show: false },
    minorSplitLine: { show: false },
    axisLabel: { margin, align, fontSize: 31, fontWeight: "bold", fontFamily: FONT, color: "#111" },
  };
}

function txt(x: number, y: number, text: string, size: number, color: string, align = "center", rotation = 0) {
  return {
    type: "text", x, y, rotation, z: 100,
    style: {
      text, fill: color, fontSize: size, fontWeight: "bold", fontFamily: FONT,
      textAlign: align, textVerticalAlign: "middle", align, verticalAlign: "middle",
    },
  };
}

function legendBox(x: number, y: number, w: number, h: number, rows: number[], lx1: number, lx2: number, tx: number) {
  return [
    { type: "rect", z: 50, shape: { x, y, width: w, height: h }, style: { fill: "#ffffff", stroke: "#dcdcdc", lineWidth: 4 } },
    { type: "line", z: 51, shape: { x1: lx1, y1: rows[0], x2: lx2, y2: rows[0] }, style: { stroke: "#9a6a5a", lineWidth: 5, lineDash: [6, 7] } },
    { type: "line", z: 51, shape: { x1: lx1, y1: rows[1], x2: lx2, y2: rows[1] }, style: { stroke: "#4a4af0", lineWidth: 5, lineDash: [6, 7] } },
    { type: "line", z: 51, shape: { x1: lx1, y1: rows[2], x2: lx2, y2: rows[2] }, style: { stroke: "#f25a5a", lineWidth: 6 } },
    txt(tx, rows[0], "Ensgem", 33, LABEL_BLUE),
    txt(tx, rows[1], "Control", 33, LABEL_BLUE),
    txt(tx, rows[2], "Oper", 33, LABEL_BLUE),
  ];
}

export default function App() {
  const ref = useRef<HTMLDivElement>(null);
  useEffect(() => {
    if (!ref.current) return;
    const chart = echarts.init(ref.current, null, { renderer: "svg" });
    const option: any = {
      animation: false,
      backgroundColor: "#ffffff",
      textStyle: { fontFamily: FONT },
      grid: [
        { left: 127, right: 133, top: 110, height: 736, show: true, borderColor: "#000", borderWidth: 3, backgroundColor: "transparent", containLabel: false },
        { left: 144, right: 93, top: 1131, height: 746, show: true, borderColor: "#000", borderWidth: 3, backgroundColor: "transparent", containLabel: false },
      ],
      xAxis: [
        mainX(0, topDays, false, 28),
        longTickX(0, topLongTicks),
        mainX(1, bottomDays, true, 29),
        longTickX(1, bottomLongTicks),
      ],
      yAxis: [
        yAx(0, "left", -15, 20, 47, "right"),
        yAx(0, "right", -15, 20, 60, "right"),
        yAx(1, "left", -20, 15, 50, "right"),
        yAx(1, "right", -20, 15, 74, "right"),
      ],
      series: [
        ...panelSeries(topMembers, topEnsgem, topControl, topOper, 0, 0, "#707070", 2),
        ...panelSeries(botMembers, botEnsgem, botControl, botOper, 2, 2, "#b4b4b4", 5),
      ],
      graphic: [
        txt(977, 37, topTitle, 49, "#111"),
        txt(1007, 1055, bottomTitle, 49, "#111"),
        txt(989, 990, "Dag", 48, "#111"),
        txt(1019, 2022, "Dag", 48, "#111"),
        txt(1713, 1006, "Bron: ECMWF/KNMI", 28, LABEL_BLUE, "left"),
        txt(1750, 2033, "Bron: ECMWF/KNMI", 28, LABEL_BLUE, "left"),
        txt(28, 488, "Celsius", 44, "#111", "center", Math.PI / 2),
        txt(2018, 494, "Celsius", 44, "#111", "center", Math.PI / 2),
        txt(29, 1521, "Celsius", 44, "#111", "center", Math.PI / 2),
        txt(1648, 144, "De Bilt", 44, "#111"),
        txt(1672, 193, "T2m", 44, "#111"),
        txt(1685, 1165, "De Bilt", 44, "#111"),
        txt(1707, 1217, "T2m", 44, "#111"),
        ...legendBox(129, 112, 280, 158, [151, 189, 226], 141, 202, 296),
        ...legendBox(146, 1133, 285, 161, [1175, 1212, 1250], 159, 222, 318),
      ],
    };
    chart.setOption(option);
    return () => chart.dispose();
  }, []);
  return <div ref={ref} style={{ position: "absolute", left: 0, top: 0, width: 2048, height: 2048 }} />;
}
